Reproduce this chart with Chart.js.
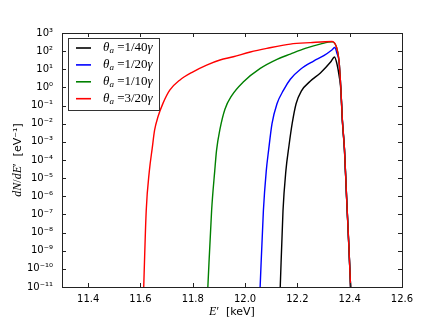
<!DOCTYPE html>
<html>
<head>
<meta charset="utf-8">
<script src="https://cdn.jsdelivr.net/npm/chart.js@4"></script>
<style>
  html, body { margin: 0; padding: 0; background: #fff; }
</style>
</head>
<body>
<canvas id="myChart" width="446" height="334"></canvas>
<script>
// tick labels
const xTicks = [11.4, 11.6, 11.8, 12.0, 12.2, 12.4, 12.6];
const yTicks = [1e-11, 1e-10, 1e-9, 1e-8, 1e-7, 1e-6, 1e-5, 1e-4, 1e-3, 1e-2, 1e-1, 1e0, 1e1, 1e2, 1e3];

// series labels
const labels = ['θₐ =1/40γ', 'θₐ =1/20γ', 'θₐ =1/10γ', 'θₐ =3/20γ'];

// E' [keV] and dN/dE' [eV^-1]
const e40 = [12.134, 12.145, 12.156, 12.168, 12.180, 12.195, 12.215, 12.250, 12.288, 12.327, 12.342, 12.352, 12.360, 12.366, 12.372, 12.380, 12.388, 12.397, 12.404];
const n40 = [6.3e-12, 1.6e-7, 2.5e-5, 6.3e-4, 1.0e-2, 0.126, 0.631, 2.24, 6.31, 25.1, 47.9, 17.8, 3.98, 0.794, 1.4e-2, 3.5e-4, 8.9e-7, 1.4e-9, 6.3e-12];

const e20 = [12.057, 12.070, 12.081, 12.090, 12.103, 12.122, 12.147, 12.173, 12.212, 12.262, 12.301, 12.333, 12.343, 12.352, 12.359, 12.366, 12.372, 12.380, 12.388, 12.397, 12.404];
const n20 = [6.3e-12, 1.6e-7, 2.5e-5, 3.5e-4, 1.0e-2, 0.126, 0.708, 2.82, 10, 28.2, 56.2, 120, 158, 70.8, 28.2, 1.0, 1.6e-2, 4.0e-4, 1.0e-6, 1.6e-9, 6.3e-12];

const e10 = [11.857, 11.872, 11.884, 11.891, 11.904, 11.923, 11.949, 11.993, 12.058, 12.122, 12.173, 12.230, 12.290, 12.333, 12.350, 12.359, 12.366, 12.372, 12.380, 12.388, 12.397, 12.404];
const n10 = [6.3e-12, 1.6e-7, 2.5e-5, 3.5e-4, 5.0e-3, 6.3e-2, 0.355, 2.0, 11.2, 35.5, 69.2, 141, 251, 324, 158, 31.6, 1.0, 1.6e-2, 4.0e-4, 1.0e-6, 1.6e-9, 6.3e-12];

const e320 = [11.612, 11.622, 11.634, 11.645, 11.654, 11.667, 11.686, 11.712, 11.750, 11.801, 11.853, 11.904, 11.955, 12.020, 12.083, 12.173, 12.250, 12.333, 12.350, 12.359, 12.366, 12.372, 12.380, 12.388, 12.397, 12.404];
const n320 = [6.3e-12, 1.6e-7, 2.5e-5, 4.5e-4, 4.4e-3, 2.4e-2, 0.132, 0.708, 2.51, 7.24, 17.0, 32.4, 49.0, 89.1, 141, 245, 295, 339, 158, 31.6, 1.0, 1.6e-2, 4.0e-4, 1.0e-6, 1.6e-9, 6.3e-12];

const pts = (xs, ys) => xs.map((x, i) => ({x: x, y: ys[i]}));

function sup(n) {
  const m = {'-': '⁻', '0': '⁰', '1': '¹', '2': '²', '3': '³', '4': '⁴', '5': '⁵', '6': '⁶', '7': '⁷', '8': '⁸', '9': '⁹'};
  return String(n).split('').map(c => m[c]).join('');
}

// draws a list of text pieces one after another, centered on x
function rich(ctx, segs, x, y) {
  let w = 0;
  segs.forEach(s => { ctx.font = s.f; w += ctx.measureText(s.t).width; });
  let cx = x - w / 2;
  ctx.textBaseline = 'middle';
  ctx.textAlign = 'left';
  segs.forEach(s => {
    ctx.font = s.f;
    ctx.fillText(s.t, cx, y + (s.dy || 0));
    cx += ctx.measureText(s.t).width;
  });
}

const mplLook = {
  id: 'mplLook',
  afterDraw(chart) {
    const ctx = chart.ctx;
    const a = chart.chartArea;
    const xs = chart.scales.x, ys = chart.scales.y;
    ctx.save();
    ctx.strokeStyle = '#222';
    ctx.lineWidth = 1;
    // frame
    ctx.strokeRect(Math.round(a.left) + 0.5, Math.round(a.top) + 0.5, Math.round(a.right - a.left), Math.round(a.bottom - a.top));
    // inward ticks on all four sides
    ctx.beginPath();
    xTicks.forEach(v => {
      const px = Math.round(xs.getPixelForValue(v)) + 0.5;
      ctx.moveTo(px, a.bottom); ctx.lineTo(px, a.bottom - 4);
      ctx.moveTo(px, a.top); ctx.lineTo(px, a.top + 4);
    });
    yTicks.forEach(v => {
      const py = Math.round(ys.getPixelForValue(v)) + 0.5;
      ctx.moveTo(a.left, py); ctx.lineTo(a.left + 4, py);
      ctx.moveTo(a.right, py); ctx.lineTo(a.right - 4, py);
    });
    ctx.stroke();

    // legend
    const bx = 68, by = 38, bw = 91, bh = 72;
    ctx.fillStyle = '#fff';
    ctx.fillRect(bx, by, bw, bh);
    ctx.strokeStyle = '#333';
    ctx.strokeRect(bx + 0.5, by + 0.5, bw, bh);
    chart.data.datasets.forEach((ds, i) => {
      const ry = 48 + i * 16.9;
      ctx.strokeStyle = ds.borderColor;
      ctx.lineWidth = 1.6;
      ctx.beginPath();
      ctx.moveTo(76, ry); ctx.lineTo(91, ry);
      ctx.stroke();
      ctx.fillStyle = '#000';
      ctx.textBaseline = 'middle';
      ctx.textAlign = 'left';
      let cx = 103;
      ds.label.split('').forEach(c => {
        let f, dy = 0, t = c;
        if (c === 'ₐ') { f = 'italic 9px "Liberation Serif"'; t = 'a'; dy = 3; }
        else if (/[θγ]/.test(c)) f = 'italic 13px "Liberation Serif"';
        else f = '13px "Liberation Serif"';
        ctx.font = f;
        ctx.fillText(t, cx, ry + dy);
        cx += ctx.measureText(t).width;
      });
    });

    // axis titles
    ctx.fillStyle = '#000';
    const serifI = 'italic 12px "Liberation Serif"';
    const serif = '12px "Liberation Serif"';
    const sans = '11px "DejaVu Sans"';
    rich(ctx, [
      {t: 'E', f: serifI}, {t: '′', f: serif}, {t: '  [keV]', f: sans}
    ], (a.left + a.right) / 2, 312);
    ctx.save();
    ctx.translate(18, (a.top + a.bottom) / 2);
    ctx.rotate(-Math.PI / 2);
    rich(ctx, [
      {t: 'dN', f: serifI}, {t: '/', f: serif}, {t: 'dE', f: serifI}, {t: '′', f: serif},
      {t: '  [eV', f: sans}, {t: '⁻¹', f: sans}, {t: ']', f: sans}
    ], 0, 0);
    ctx.restore();
    ctx.restore();
  }
};

const ctx = document.getElementById('myChart');

const chart = new Chart(ctx, {
  type: 'line',
  data: {
    datasets: [
      {label: labels[0], data: pts(e40, n40), borderColor: '#000000', order: 3},
      {label: labels[1], data: pts(e20, n20), borderColor: '#0000ff', order: 2},
      {label: labels[2], data: pts(e10, n10), borderColor: '#008000', order: 1},
      {label: labels[3], data: pts(e320, n320), borderColor: '#ff0000', order: 0}
    ]
  },
  options: {
    responsive: false,
    animation: false,
    layout: { padding: {left: 0, top: 33, right: 44, bottom: 0} },
    elements: {
      point: { radius: 0 },
      line: { borderWidth: 1.4, cubicInterpolationMode: 'monotone', fill: false }
    },
    plugins: {
      legend: { display: false },
      tooltip: { enabled: false }
    },
    scales: {
      x: {
        type: 'linear',
        min: 11.3,
        max: 12.6,
        grid: { display: false },
        border: { display: false },
        afterBuildTicks: s => { s.ticks = xTicks.map(v => ({value: v})); },
        afterFit: s => { s.height = 47; },
        ticks: {
          color: '#000',
          font: { family: 'DejaVu Sans', size: 10 },
          padding: -2,
          maxRotation: 0,
          autoSkip: false,
          callback: v => v.toFixed(1)
        }
      },
      y: {
        type: 'logarithmic',
        min: 1e-11,
        max: 1e3,
        grid: { display: false },
        border: { display: false },
        afterBuildTicks: s => { s.ticks = yTicks.map(v => ({value: v})); },
        afterFit: s => { s.width = 62; },
        ticks: {
          color: '#000',
          font: { family: 'DejaVu Sans', size: 10 },
          padding: 1,
          autoSkip: false,
          callback: v => '10' + sup(Math.round(Math.log10(v)))
        }
      }
    }
  },
  plugins: [mplLook]
});
</script>
</body>
</html>
